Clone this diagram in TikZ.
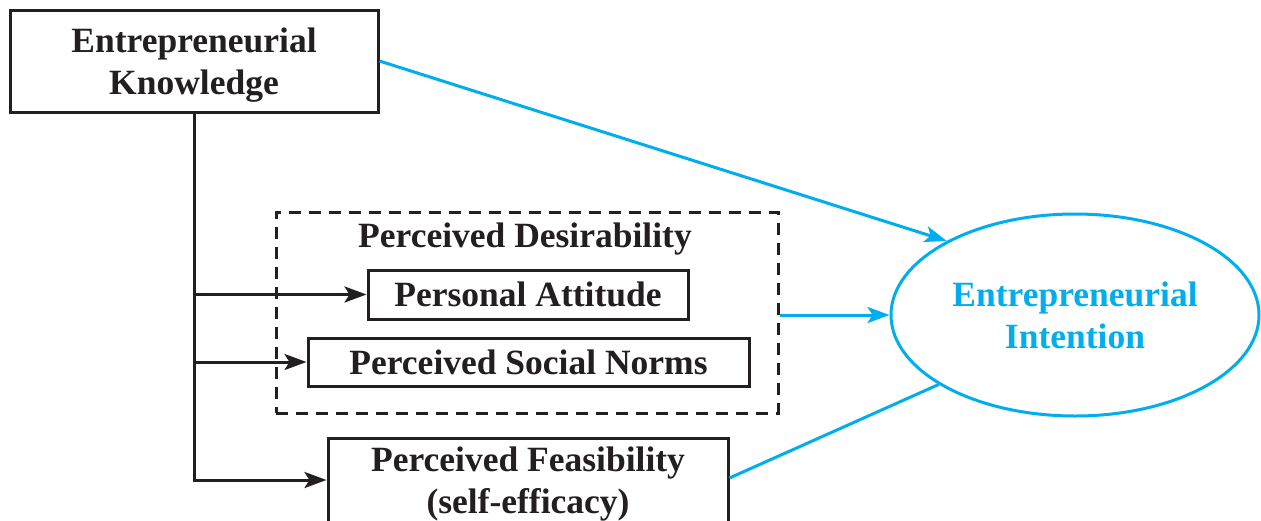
\documentclass[tikz,border=0pt]{standalone}
\usepackage{fontspec}
\setmainfont{Liberation Serif}
\usetikzlibrary{arrows.meta,shapes.geometric,calc}
\definecolor{cy}{HTML}{00AEEF}
\definecolor{dk}{HTML}{231F20}
\begin{document}
\begin{tikzpicture}[x=1pt,y=-1pt,
  every node/.style={font=\bfseries\fontsize{35.5}{42}\selectfont, text=dk},
  box/.style={draw=dk, line width=3pt, inner sep=0pt, align=center},
  blk/.style={draw=dk, line width=3pt, -{Stealth[length=22pt,width=16pt,inset=5pt]}},
  blu/.style={draw=cy, line width=3pt},
  bluarr/.style={blu, -{Stealth[length=22pt,width=16pt,inset=5pt]}}]
\useasboundingbox (0,0) rectangle (1261,520);
\fill[white] (0,0) rectangle (1261,520);
\node[box, minimum width=368pt, minimum height=102pt, text depth=-3pt] (ek) at (194,61) {Entrepreneurial\\Knowledge};
\node[draw=dk, line width=3pt, dash pattern=on 12pt off 8pt, minimum width=502pt, minimum height=201pt, inner sep=0pt] (desir) at (527,312.5) {};
\node (dtitle) at (525,239) {Perceived Desirability};
\node[box, minimum width=320pt, minimum height=49pt] (pa) at (528,294.5) {Personal Attitude};
\node[box, minimum width=441pt, minimum height=48pt] (sn) at (528.5,362) {Perceived Social Norms};
\node[box, minimum width=400pt, minimum height=92pt] (feas) at (528,484) {Perceived Feasibility\\(self-efficacy)};
\node[ellipse, draw=cy, line width=3pt, minimum width=368pt, minimum height=202pt, inner sep=0pt, align=center, text=cy] (ei) at (1075,315) {Entrepreneurial\\Intention};
% black connectors
\draw[draw=dk, line width=3pt] (ek.south) -- (ek.south |- sn.west);
\draw[blk] (ek.south) |- ([yshift=4pt]feas.west);
\draw[blk] (ek.south |- pa.west) -- (pa.west);
\draw[blk] (ek.south |- sn.west) -- (sn.west);
% blue connectors
\draw[bluarr] (ek.east) -- (ei.150);
\draw[bluarr] (desir.east |- ei.west) -- (ei.west);
\draw[blu] ([yshift=6pt]feas.east) -- (ei.207);
\end{tikzpicture}
\end{document}
